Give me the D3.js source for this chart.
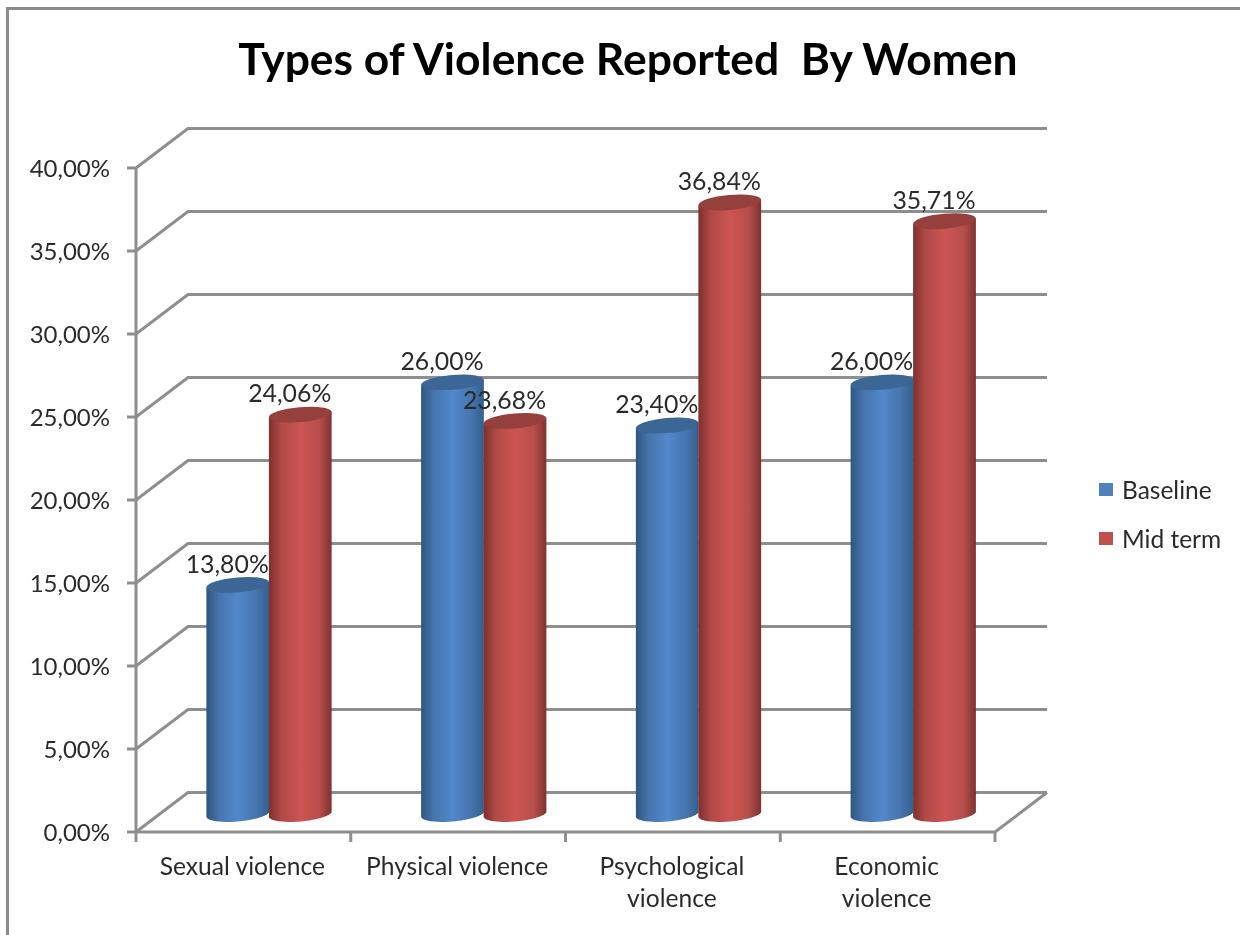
<!DOCTYPE html>
<html><head><meta charset="utf-8">
<script src="https://cdn.jsdelivr.net/npm/d3@7/dist/d3.min.js"></script>
<style>html,body{margin:0;padding:0;background:#fff;overflow:hidden}svg{display:block}text{font-family:Lato,Carlito,"Open Sans",sans-serif}</style>
</head><body><div id="c"></div>
<script>
const categories = [["Sexual violence"],["Physical violence"],["Psychological","violence"],["Economic","violence"]];
const baseline = [13.80,26.00,23.40,26.00];
const midTerm = [24.06,23.68,36.84,35.71];
const seriesNames = ["Baseline","Mid term"];
const yTicks = [0,5,10,15,20,25,30,35,40];
const titleText = "Types of Violence Reported  By Women";

const W=1240,H=935, dx=52, dy=-39.5, lineCol="#8e8e8e", textCol="#2c2c2c";
const fmt=v=>v.toFixed(2).replace(".",",")+"%";
const svg=d3.select("#c").append("svg").attr("width",W).attr("height",H);
const x=d3.scaleBand().domain(d3.range(categories.length)).range([136,995]);
const y=d3.scaleLinear().domain([0,40]).range([832,168]);
const sub=d3.scaleBand().domain([0,1]).range([0,125]);
const defs=svg.append("defs");
const grads=[
 {id:"g0",stops:["#2f5580","#4674ad","#5288cc","#4674ad","#32608f"],top:"#3a6696",sw:"#4f81bd"},
 {id:"g1",stops:["#7e2f2d","#b04a47","#cd5452","#b84f4c","#7e3230"],top:"#963f3c",sw:"#c0504d"}];
grads.forEach(g=>{const l=defs.append("linearGradient").attr("id",g.id);
 [0,.2,.5,.8,1].forEach((o,i)=>l.append("stop").attr("offset",o).attr("stop-color",g.stops[i]));});
defs.append("filter").attr("id","soft").append("feGaussianBlur").attr("stdDeviation",0.5);

const root=svg.append("g").attr("filter","url(#soft)");
// frame
root.append("path").attr("d",`M7.5,${H}V8.5H${W}`).attr("fill","none").attr("stroke","#8a8a8a").attr("stroke-width",3);
// walls / gridlines
const grid=root.append("g").attr("fill","none").attr("stroke",lineCol).attr("stroke-width",3);
yTicks.forEach(t=>{
  grid.append("path").attr("d",`M127,${y(t)}H136L${136+dx},${y(t)+dy}H${995+dx}`);
});
grid.append("path").attr("d",d3.line()([[136,y(0)],[995,y(0)],[995+dx,y(0)+dy]]));
grid.append("path").attr("d",`M136,${y(40)}V${y(0)}`);
d3.range(categories.length+1).forEach(i=>{
  const px=i<categories.length?x(i):995;
  grid.append("path").attr("d",`M${px},${y(0)}V${y(0)+10}`);
});
// y labels
root.append("g").selectAll("text").data(yTicks).join("text")
 .attr("x",110).attr("y",d=>y(d)+1).attr("dy","0.35em").attr("text-anchor","end")
 .attr("font-size",24).attr("fill",textCol).text(d=>fmt(d));
// x labels
const xl=root.append("g").selectAll("text").data(categories).join("text")
 .attr("font-size",24.6).attr("fill",textCol).attr("text-anchor","middle");
xl.each(function(lines,i){const t=d3.select(this);
 lines.forEach((s,j)=>t.append("tspan").attr("x",x(i)+x.bandwidth()/2-1).attr("y",875+j*32).text(s));});
// cylinders
const rx=31.5, ry=7.5, a=-5*Math.PI/180, baseY=y(0)-18, offset=71;
const bars=[];
categories.forEach((c,i)=>{[baseline,midTerm].forEach((s,k)=>bars.push({i,k,v:s[i]}));});
const rimAngles=d3.range(0,25).map(n=>Math.PI*n/24);
const rimPoint=(cx,cy,t)=>{const u=rx*Math.cos(t),w=ry*Math.sin(t);
  return [cx+u*Math.cos(a)-w*Math.sin(a),cy+u*Math.sin(a)+w*Math.cos(a)];};
const line=d3.line();
const cyl=root.append("g").selectAll("g").data(bars).join("g");
cyl.each(function(d){
  const g=d3.select(this), g0=grads[d.k];
  const cx=x(d.i)+offset+sub(d.k)+sub.bandwidth()/2-0.5;
  const top=baseY-(y(0)-y(d.v));
  const pts=[rimPoint(cx,top,0),...rimAngles.map(t=>rimPoint(cx,baseY,t)),rimPoint(cx,top,Math.PI)];
  g.append("path").attr("d",line(pts)+"Z").attr("fill",`url(#${g0.id})`);
  g.append("ellipse").attr("cx",cx).attr("cy",top).attr("rx",rx).attr("ry",ry)
   .attr("transform",`rotate(-5 ${cx} ${top})`).attr("fill",g0.top);
});
// value labels
root.append("g").selectAll("text").data(bars).join("text")
 .attr("x",d=>x(d.i)+offset+sub(d.k)+sub.bandwidth()/2-11)
 .attr("y",d=>baseY-(y(0)-y(d.v))-21).attr("dy","0.35em").attr("text-anchor","middle")
 .attr("font-size",24.8).attr("fill",textCol).text(d=>fmt(d.v));
// title
root.append("text").attr("x",628).attr("y",75).attr("text-anchor","middle")
 .style("white-space","pre").attr("font-size",44.4).attr("font-weight",700).attr("fill","#000").text(titleText);
// legend
const leg=root.append("g").selectAll("g").data(seriesNames).join("g")
 .attr("transform",(d,i)=>`translate(1099,${483+i*49})`);
leg.append("rect").attr("width",14).attr("height",13).attr("fill",(d,i)=>grads[i].sw);
leg.append("text").attr("x",23).attr("y",7).attr("dy","0.35em").attr("font-size",24.5).attr("fill",textCol).text(d=>d);
</script></body></html>
